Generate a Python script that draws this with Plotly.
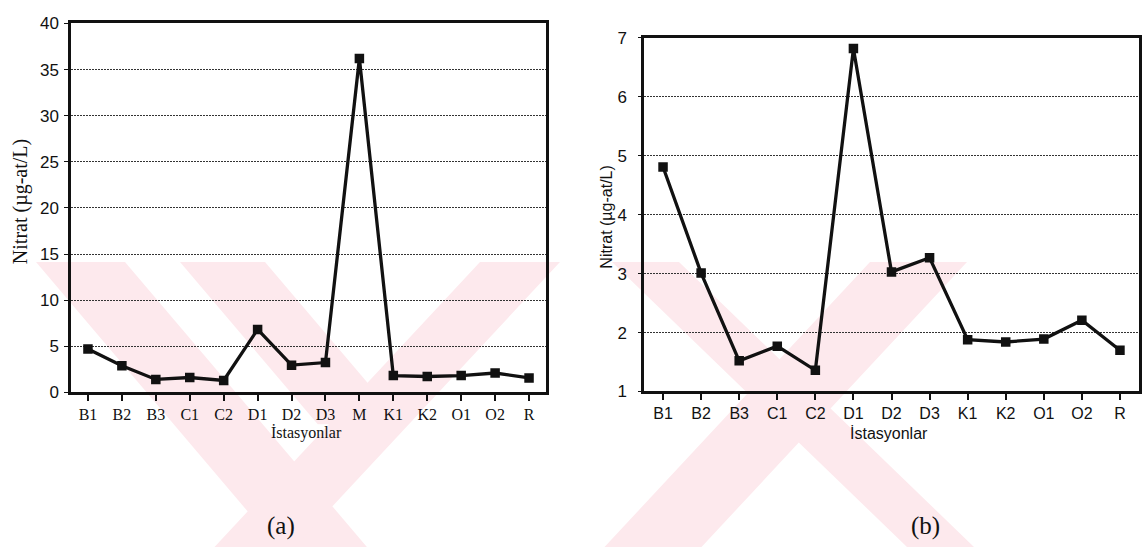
import plotly.graph_objects as go

# Station names and nitrate concentrations (µg-at/L)
stations_a = ["B1", "B2", "B3", "C1", "C2", "D1", "D2", "D3", "M", "K1", "K2", "O1", "O2", "R"]
nitrate_a = [4.72, 2.89, 1.41, 1.62, 1.30, 6.83, 2.96, 3.24, 36.2, 1.83, 1.73, 1.83, 2.11, 1.58]

stations_b = ["B1", "B2", "B3", "C1", "C2", "D1", "D2", "D3", "K1", "K2", "O1", "O2", "R"]
nitrate_b = [4.81, 3.01, 1.52, 1.77, 1.36, 6.82, 3.03, 3.27, 1.88, 1.84, 1.89, 2.21, 1.70]

y_ticks_a = [0, 5, 10, 15, 20, 25, 30, 35, 40]
y_ticks_b = [1, 2, 3, 4, 5, 6, 7]

W, H = 1143, 557
SERIF = "Liberation Serif, Times New Roman, serif"
SANS = "Liberation Sans, Arial, sans-serif"
INK = "#111111"
WATERMARK = "#fde9ed"


def px_x(p):
    return p / W


def px_y(p):
    return 1 - p / H


fig = go.Figure()

line_style = dict(color=INK, width=3.3)
marker_style = dict(symbol="square", size=9.5, color=INK)

fig.add_trace(go.Scatter(x=stations_a, y=nitrate_a, mode="lines+markers",
                         line=line_style, marker=marker_style,
                         xaxis="x", yaxis="y", showlegend=False))
fig.add_trace(go.Scatter(x=stations_b, y=nitrate_b, mode="lines+markers",
                         line=line_style, marker=marker_style,
                         xaxis="x2", yaxis="y2", showlegend=False))

frame = dict(showline=True, linecolor=INK, linewidth=2.5, mirror=True,
             zeroline=False)
grid = dict(showgrid=True, gridcolor="#333333", gridwidth=1, griddash="2px,1px")

dom_a_x = [px_x(71), px_x(546)]
dom_a_y = [px_y(397), px_y(15)]
dom_b_x = [px_x(644), px_x(1139)]
dom_b_y = [px_y(396), px_y(30)]

fig.update_layout(
    width=W, height=H,
    margin=dict(l=0, r=0, t=0, b=0),
    paper_bgcolor="white", plot_bgcolor="rgba(0,0,0,0)",
    showlegend=False,
    # panel (a)
    xaxis=dict(domain=dom_a_x, anchor="y", type="category",
               categoryorder="array", categoryarray=stations_a,
               range=[-0.5, len(stations_a) - 0.5],
               ticks="outside", ticklen=6, tickwidth=1.5, tickcolor=INK,
               ticklabelstandoff=0,
               tickfont=dict(family=SERIF, size=16, color=INK),
               showgrid=False, **frame),
    yaxis=dict(domain=dom_a_y, anchor="x", range=[0, 40],
               tickvals=y_ticks_a, ticks="outside", ticklen=4, tickcolor=INK,
               ticklabelstandoff=2,
               tickfont=dict(family=SANS, size=17, color=INK),
               **grid, **frame),
    # cross-through tick marks on panel (a)
    xaxis3=dict(overlaying="x", anchor="y", side="bottom", type="linear",
                range=[-0.5, len(stations_a) - 0.5],
                tickvals=list(range(len(stations_a))),
                ticks="inside", ticklen=6, tickwidth=1.5, tickcolor=INK,
                showticklabels=False, showgrid=False, showline=False,
                zeroline=False),
    # panel (b)
    xaxis2=dict(domain=dom_b_x, anchor="y2", type="category",
                categoryorder="array", categoryarray=stations_b,
                range=[-0.5, len(stations_b) - 0.5],
                ticks="outside", ticklen=6, tickwidth=1.5, tickcolor=INK,
                ticklabelstandoff=0,
                tickfont=dict(family=SANS, size=16, color=INK),
                showgrid=False, **frame),
    yaxis2=dict(domain=dom_b_y, anchor="x2", range=[1, 7],
                tickvals=y_ticks_b, ticks="outside", ticklen=3, tickcolor=INK,
                ticklabelstandoff=8,
                tickfont=dict(family=SANS, size=17, color=INK),
                **grid, **frame),
    xaxis4=dict(overlaying="x2", anchor="y2", side="bottom", type="linear",
                range=[-0.5, len(stations_b) - 0.5],
                tickvals=list(range(len(stations_b))),
                ticks="inside", ticklen=6, tickwidth=1.5, tickcolor=INK,
                showticklabels=False, showgrid=False, showline=False,
                zeroline=False),
)


# Pale diagonal page watermark behind both panels (pixel geometry)
def band(x_left, x_right, slope, y_top=262, y_bottom=557):
    d = y_bottom - y_top
    pts = [(x_left, y_top), (x_right, y_top),
           (x_right + slope * d, y_bottom), (x_left + slope * d, y_bottom)]
    path = "M " + " L ".join(f"{px_x(x):.5f},{px_y(y):.5f}" for x, y in pts) + " Z"
    return dict(type="path", path=path, xref="paper", yref="paper",
                fillcolor=WATERMARK, line=dict(width=0), layer="below")


fig.update_layout(shapes=[
    band(36, 125, 0.82),
    band(180, 265, 0.82, y_bottom=430),
    band(480, 560, -0.9),
    band(612, 679, 1.0),
    band(870, 967, -0.9),
])

annotations = [
    dict(text="Nitrat (µg-at/L)", x=px_x(20), y=px_y(200), textangle=-90,
         font=dict(family=SERIF, size=20, color=INK)),
    dict(text="İstasyonlar", x=px_x(306), y=px_y(439),
         font=dict(family=SERIF, size=16, color=INK)),
    dict(text="Nitrat (µg-at/L)", x=px_x(607), y=px_y(216), textangle=-90,
         font=dict(family=SANS, size=16, color=INK)),
    dict(text="İstasyonlar", x=px_x(889), y=px_y(439),
         font=dict(family=SANS, size=16, color=INK)),
    dict(text="(a)", x=px_x(281), y=px_y(535),
         font=dict(family=SERIF, size=25, color=INK)),
    dict(text="(b)", x=px_x(925), y=px_y(535),
         font=dict(family=SERIF, size=25, color=INK)),
]
for a in annotations:
    a.update(xref="paper", yref="paper", xanchor="center", yanchor="middle",
             showarrow=False)
fig.update_layout(annotations=annotations)

fig.write_html("out.html")
